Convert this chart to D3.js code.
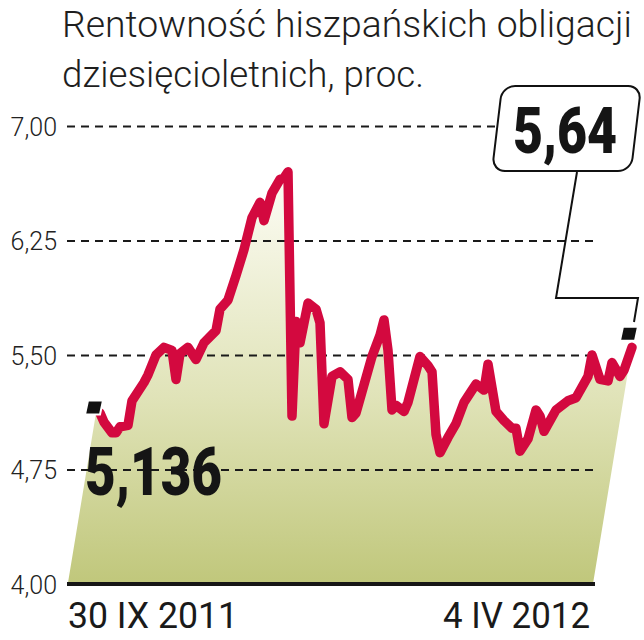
<!DOCTYPE html>
<meta charset="utf-8">
<script src="https://d3js.org/d3.v7.min.js"></script>
<html>
<head>
<style>
body { margin: 0; background: #fff; }
.tick text { font-family: Roboto, "DejaVu Sans", sans-serif; font-weight: 300; fill: #222; }
</style>
</head>
<body>
<div id="chart"></div>
</body>
</html>
<script>
// trading-day index: 0 = 30 IX 2011, 133 = 4 IV 2012
var days = [0, 1, 3, 4, 5, 7, 8, 11, 12, 14, 16, 18, 19, 20, 22, 24, 26, 29, 30, 32,
            34, 36, 38, 40, 41, 43, 45, 46, 47, 48, 49, 50, 52, 54, 55, 56, 58, 60, 62, 63,
            64, 68, 70, 71, 72, 73, 74, 76, 77, 80, 82, 83, 84, 85, 87, 89, 91, 93, 94, 96,
            97, 99, 101, 103, 104, 105, 107, 109, 110, 111, 114, 117, 119, 122, 123, 125, 127, 128, 130, 131,
            133];
var yields = [5.12, 5.06, 4.99, 4.99, 5.03, 5.04, 5.20, 5.32, 5.37, 5.50, 5.55, 5.53, 5.34, 5.51, 5.55, 5.47, 5.58, 5.66, 5.80, 5.86,
              6.02, 6.19, 6.40, 6.50, 6.38, 6.56, 6.65, 6.66, 6.70, 5.10, 5.72, 5.58, 5.84, 5.80, 5.71, 5.05, 5.36, 5.39, 5.34, 5.09,
              5.12, 5.49, 5.63, 5.73, 5.53, 5.14, 5.17, 5.13, 5.19, 5.49, 5.43, 5.39, 4.98, 4.86, 4.96, 5.05, 5.19, 5.27, 5.31, 5.27,
              5.44, 5.13, 5.07, 5.02, 5.02, 4.87, 4.95, 5.14, 5.10, 5.00, 5.14, 5.20, 5.22, 5.36, 5.50, 5.34, 5.33, 5.45, 5.36, 5.40,
              5.55];
var yTicks = [4.00, 4.75, 5.50, 6.25, 7.00];
var dateLabels = ["30 IX 2011", "4 IV 2012"];
var firstValue = 5.136, lastValue = 5.64;
var titleLines = ["Rentowność hiszpańskich obligacji", "dziesięcioletnich, proc."];

var W = 644, H = 640;
var left = 67, right = 595, base = 584;
var slant = 0.165;   // the area leans to the left

var svg = d3.select("#chart").append("svg")
  .attr("width", W).attr("height", H);

var x = d3.scaleLinear().domain([0, 133]).range([100, 632]);
var y = d3.scaleLinear().domain([4, 7]).range([base, 126]);
var fmt = function(v) { return d3.format(".2f")(v).replace(".", ","); };

// gradient for the area
var grad = svg.append("defs").append("linearGradient")
  .attr("id", "fillGrad").attr("gradientUnits", "userSpaceOnUse")
  .attr("x1", 0).attr("y1", 170).attr("x2", 0).attr("y2", base);
grad.append("stop").attr("offset", "0%").attr("stop-color", "#fdfdf6");
grad.append("stop").attr("offset", "55%").attr("stop-color", "#e0e3b8");
grad.append("stop").attr("offset", "100%").attr("stop-color", "#c0c77b");

// title
svg.selectAll(".title")
  .data(titleLines)
  .enter().append("text")
    .attr("class", "title")
    .attr("x", 62)
    .attr("y", function(d, i) { return 37 + i * 50; })
    .attr("textLength", function(d, i) { return i == 0 ? 570 : 362; })
    .attr("lengthAdjust", "spacingAndGlyphs")
    .style("font-family", "Roboto, 'DejaVu Sans', sans-serif")
    .style("font-weight", 300)
    .style("font-size", "37px")
    .style("fill", "#1e1e1e")
    .text(function(d) { return d; });

// area under the line, with slanted sides
var pts = days.map(function(d, i) { return [x(d), y(yields[i])]; });
var n = pts.length;
var areaPts = [[pts[0][0] - 4, pts[0][1]]].concat(pts);
areaPts.push([pts[n-1][0] - slant * (base - pts[n-1][1]), base]);
areaPts.push([pts[0][0] - 4 - slant * (base - pts[0][1]), base]);
svg.append("path")
  .attr("d", d3.line()(areaPts) + "Z")
  .style("fill", "url(#fillGrad)");

// y axis with dashed grid lines
var yAxis = svg.append("g")
  .attr("transform", "translate(" + left + ",0)")
  .call(d3.axisLeft(y).tickValues(yTicks).tickSize(-(right - left)).tickPadding(10).tickFormat(fmt));
yAxis.select(".domain").remove();
yAxis.selectAll(".tick line")
  .style("stroke", "#1a1a1a")
  .style("stroke-width", 2)
  .style("stroke-dasharray", "8,6")
  .style("display", function(d) { return d == 4 ? "none" : null; });
yAxis.selectAll(".tick text")
  .style("font-size", "25px")
  .attr("dy", "0.36em");

// baseline
svg.append("line")
  .attr("x1", left).attr("x2", right)
  .attr("y1", base).attr("y2", base)
  .style("stroke", "#161616").style("stroke-width", 4);

// the yield line
svg.append("path")
  .datum(pts)
  .attr("d", d3.line())
  .style("fill", "none")
  .style("stroke", "#d3093f")
  .style("stroke-width", 9.5)
  .style("stroke-linejoin", "round")
  .style("stroke-linecap", "round");

// start / end markers
var marker = function(cx, cy) {
  return [[cx - 6, cy - 7], [cx + 9, cy - 7], [cx + 6, cy + 7], [cx - 9, cy + 7]];
};
svg.append("polygon")
  .attr("points", marker(x(days[0]) - 6, y(firstValue) - 3).join(" "))
  .style("fill", "#111").style("stroke", "#fff").style("stroke-width", 2);
svg.append("polygon")
  .attr("points", marker(x(days[n-1]) - 3, y(lastValue)).join(" "))
  .style("fill", "#111").style("stroke", "#fff").style("stroke-width", 2);

// start value label
svg.append("text")
  .attr("x", 85).attr("y", 495)
  .attr("textLength", 137).attr("lengthAdjust", "spacingAndGlyphs")
  .style("font-family", "Roboto, 'DejaVu Sans', sans-serif")
  .style("font-weight", 900)
  .style("font-size", "66px")
  .style("fill", "#151515")
  .text(d3.format(".3f")(firstValue).replace(".", ","));

// callout for the last value
svg.append("polyline")
  .attr("points", [[577, 172], [556, 298], [638, 298], [634, 322]].join(" "))
  .style("fill", "none").style("stroke", "#111").style("stroke-width", 2);
svg.append("g")
  .attr("transform", "translate(492,171) skewX(-6.8)")
  .append("rect")
    .attr("x", 0).attr("y", -85)
    .attr("width", 139).attr("height", 85)
    .attr("rx", 13)
    .style("fill", "#fff").style("stroke", "#111").style("stroke-width", 2);
svg.append("text")
  .attr("x", 513).attr("y", 153)
  .attr("textLength", 104).attr("lengthAdjust", "spacingAndGlyphs")
  .style("font-family", "Roboto, 'DejaVu Sans', sans-serif")
  .style("font-weight", 900)
  .style("font-size", "64px")
  .style("fill", "#151515")
  .text(fmt(lastValue));

// date labels
svg.selectAll(".date")
  .data(dateLabels)
  .enter().append("text")
    .attr("class", "date")
    .attr("x", function(d, i) { return i == 0 ? 68 : 590; })
    .attr("y", 628)
    .attr("text-anchor", function(d, i) { return i == 0 ? "start" : "end"; })
    .attr("textLength", function(d, i) { return i == 0 ? 170 : 147; })
    .attr("lengthAdjust", "spacingAndGlyphs")
    .style("font-family", "Roboto, 'DejaVu Sans', sans-serif")
    .style("font-weight", 400)
    .style("font-size", "36px")
    .style("fill", "#1a1a1a")
    .text(function(d) { return d; });
</script>
